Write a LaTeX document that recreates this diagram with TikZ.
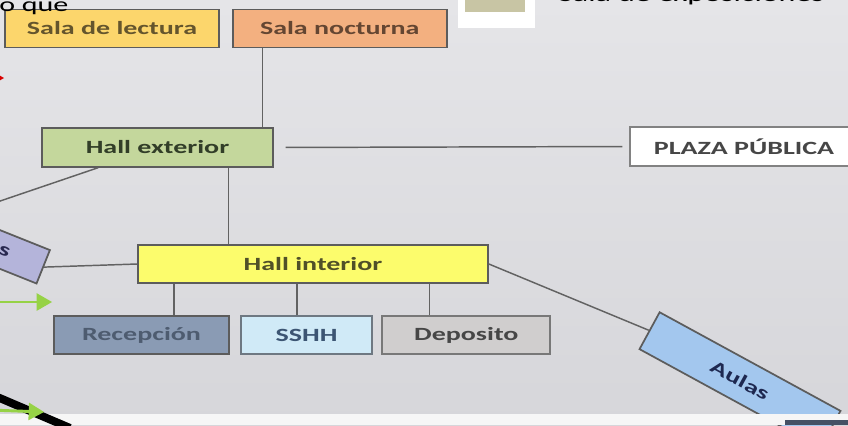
\documentclass[tikz,border=0pt]{standalone}
\usepackage{xcolor}
\usepackage{fontspec}
\newfontfamily\slidefont{Carlito}[FakeStretch=1.5]
\usepackage{tikz}
\usetikzlibrary{shapes.geometric, arrows, positioning}

\definecolor{bgtop}{RGB}{229,229,232}
\definecolor{bgbottom}{RGB}{214,214,218}
\definecolor{lectura}{RGB}{252,214,108}
\definecolor{nocturna}{RGB}{243,176,128}
\definecolor{exterior}{RGB}{196,215,156}
\definecolor{interior}{RGB}{252,252,108}
\definecolor{recepcion}{RGB}{138,155,180}
\definecolor{sshh}{RGB}{208,234,247}
\definecolor{deposito}{RGB}{208,206,206}
\definecolor{aulas}{RGB}{163,199,238}
\definecolor{talleres}{RGB}{180,180,218}
\definecolor{swatch}{RGB}{200,197,164}
\definecolor{boxline}{RGB}{92,92,92}
\definecolor{linkgray}{RGB}{98,98,98}
\definecolor{roomtext}{RGB}{70,70,70}
\definecolor{verde}{RGB}{150,210,70}
\definecolor{darkbar}{RGB}{70,80,100}

\begin{document}
\begin{tikzpicture}[x=0.75pt, y=-0.75pt, node distance=9pt, every node/.style={font=\slidefont\bfseries\fontsize{14pt}{16pt}\selectfont}, room/.style={draw=boxline, line width=1.3pt, rectangle, minimum height=28.5pt, inner sep=2pt, text=roomtext}, link/.style={draw=linkgray, line width=1.1pt}]
  \useasboundingbox (0,0) rectangle (848,425);
  \clip (0,0) rectangle (848,425);
  \fill [top color=bgtop, bottom color=bgbottom] (0,0) rectangle (848,425);

  % leyenda (cortada arriba)
  \node (legendbox) [fill=white, minimum width=57.75pt, minimum height=36pt] at (496.5,4) {};
  \node (legendswatch) [fill=swatch, minimum width=45pt, minimum height=31.5pt] at (495,-9) {};
  \node (legendtext) [anchor=base west, font=\slidefont\fontsize{16pt}{18pt}\selectfont, text=black, inner sep=0pt] at (558,1.5) {Sala de exposiciones};

  \node (salalect) [room, fill=lectura, minimum width=160.5pt, text={rgb,255:red,100;green,85;blue,45}] at (112,28.5) {Sala de lectura};
  \node (salanoct) [room, fill=nocturna, minimum width=160.5pt, right=of salalect, text={rgb,255:red,100;green,70;blue,50}] {Sala nocturna};
  \node (cortetext) [anchor=base west, font=\slidefont\fontsize{15pt}{17pt}\selectfont, text=black, inner sep=0pt] at (-1,11.5) {o que};

  \node (hallext) [room, fill=exterior, minimum width=173pt, minimum height=29pt, text={rgb,255:red,50;green,62;blue,40}] at (157.5,147.5) {Hall exterior};
  \node (plaza) [room, fill=white, draw={rgb,255:red,130;green,130;blue,130}, minimum width=171pt, minimum height=29pt] at (744,146.5) {PLAZA PÚBLICA};

  \node (talleres) [room, fill=talleres, minimum width=142.5pt, minimum height=27pt, rotate=-21.8, text width=88pt, align=right, text={rgb,255:red,40;green,40;blue,80}] at (-45,231.5) {s};
  \node (hallint) [room, fill=interior, minimum width=262.5pt, text={rgb,255:red,80;green,80;blue,40}] at (313,264) {Hall interior};

  \node (recep) [room, fill=recepcion, minimum width=131pt, text={rgb,255:red,78;green,92;blue,112}] at (141.5,335) {Recepción};
  \node (sshh) [room, fill=sshh, draw={rgb,255:red,110;green,120;blue,130}, minimum width=98pt, right=8pt of recep, text={rgb,255:red,60;green,85;blue,115}] {SSHH};
  \node (deposito) [room, fill=deposito, draw={rgb,255:red,120;green,120;blue,120}, minimum width=126pt, right=6.5pt of sshh] {Deposito};

  \node (aulas) [room, fill=aulas, minimum width=154.5pt, minimum height=31.5pt, rotate=-28.6, text={rgb,255:red,30;green,40;blue,80}] at (740,380) {Aulas};

  \draw [link] ([xshift=-8.25pt]hallext.north east) -- ([xshift=-8.25pt]hallext.north east |- salanoct.south);
  \draw [link, shorten <=9pt, shorten >=5pt] (hallext.east) -- (plaza.west);
  \draw [link] (hallext) -- (talleres.north);
  \draw [link] ([xshift=-33.75pt]hallext.south east) -- ([xshift=-33.75pt]hallext.south east |- hallint.north);
  \draw [link] (talleres.east) -- (hallint.west);
  \draw [link] (hallint.east) -- (aulas.west);
  \draw [link] ([xshift=24.4pt]recep.north) -- ([xshift=24.4pt]recep.north |- hallint.south);
  \draw [link] ([xshift=-7.1pt]sshh.north) -- ([xshift=-7.1pt]sshh.north |- hallint.south);
  \draw [link] ([xshift=-27.75pt]deposito.north) -- ([xshift=-27.75pt]deposito.north |- hallint.south);

  % franja inferior
  \fill [white!93!gray] (0,414) rectangle (848,425);
  \fill [darkbar] (785,420) rectangle (848,425);

  % flechas del borde izquierdo
  \coordinate (rojoini) at (-20,78);
  \coordinate (rojofin) at (4,78);
  \coordinate (verdeini) at (-10,302);
  \coordinate (verdefin) at (52,302);
  \coordinate (negroini) at (-5,396);
  \coordinate (negrofin) at (70,428);
  \coordinate (verdebajoini) at (-10,410);
  \coordinate (verdebajofin) at (44,412);
  \draw [red!85!black, line width=1.2pt, -triangle 60] (rojoini) -- (rojofin);
  \draw [verde, line width=2.2pt, -triangle 60] (verdeini) -- (verdefin);
  \draw [black, line width=6pt] (negroini) -- (negrofin);
  \draw [verde, line width=2.2pt, -triangle 60] (verdebajoini) -- (verdebajofin);
\end{tikzpicture}
\end{document}
